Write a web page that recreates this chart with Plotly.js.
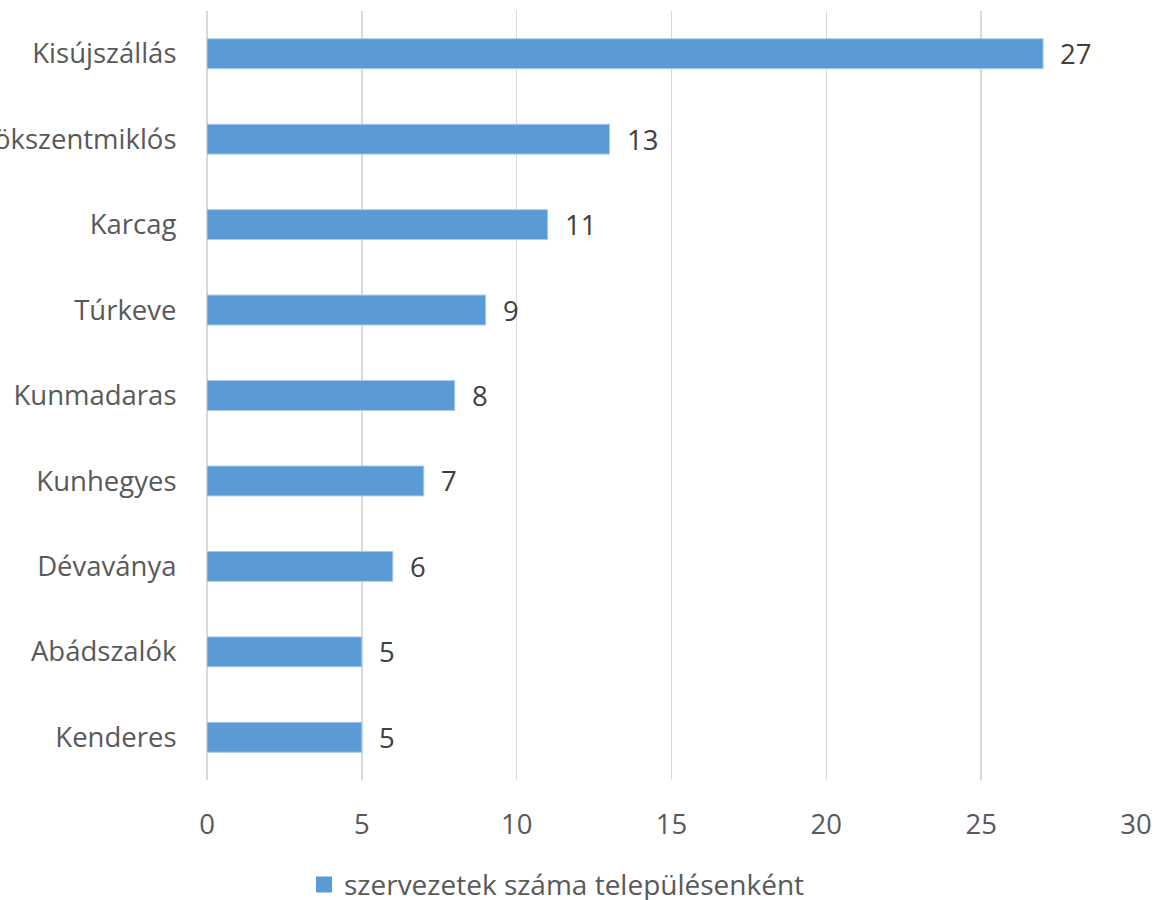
<!DOCTYPE html>
<html>
<head>
<meta charset="utf-8">
<script src="https://cdn.plot.ly/plotly-3.0.1.min.js"></script>
<style>html,body{margin:0;padding:0;background:#fff;overflow:hidden}</style>
</head>
<body>
<div id="chart" style="width:1158px;height:900px"></div>
<script>
const categories = ["Kisújszállás", "Törökszentmiklós", "Karcag", "Túrkeve", "Kunmadaras", "Kunhegyes", "Dévaványa", "Abádszalók", "Kenderes"];
const values = [27, 13, 11, 9, 8, 7, 6, 5, 5];
const seriesName = "szervezetek száma településenként";
const xTicks = [0, 5, 10, 15, 20, 25, 30];

const FONT = "Open Sans, Segoe UI, sans-serif";
const barColor = "#5B9BD5";

const traces = [
  {
    type: "bar",
    orientation: "h",
    x: values,
    y: categories,
    width: 0.35,
    marker: { color: barColor, line: { color: "#A9CBEA", width: 1 } },
    showlegend: false,
    hoverinfo: "x+y"
  },
  {
    type: "scatter",
    mode: "markers",
    x: [null],
    y: [null],
    name: seriesName,
    marker: { color: barColor, symbol: "square", size: 18 },
    showlegend: true
  }
];

const annotations = values.map((v, i) => ({
  x: v, y: categories[i], xref: "x", yref: "y",
  text: String(v), showarrow: false,
  xanchor: "left", yanchor: "middle", xshift: 15,
  font: { family: FONT, size: 27.5, color: "#404040" }
}));

const layout = {
  width: 1158, height: 900,
  margin: { l: 207, r: 22, t: 11, b: 120, pad: 0 },
  paper_bgcolor: "#ffffff", plot_bgcolor: "#ffffff",
  font: { family: FONT, size: 27.5, color: "#595959" },
  bargap: 0.65,
  xaxis: {
    range: [0, 30], tickvals: xTicks, ticktext: xTicks.map(String),
    showgrid: true, gridcolor: "#D9D9D9", gridwidth: 1.5,
    zeroline: true, zerolinecolor: "#D9D9D9", zerolinewidth: 1.5,
    showline: false, ticks: "outside", ticklen: 20, tickcolor: "rgba(0,0,0,0)",
    tickfont: { family: FONT, size: 27.5, color: "#595959" },
    automargin: false, fixedrange: true
  },
  yaxis: {
    type: "category", categoryorder: "array", categoryarray: categories,
    autorange: "reversed",
    showgrid: false, zeroline: false, showline: false,
    ticks: "outside", ticklen: 24, tickcolor: "rgba(0,0,0,0)",
    tickfont: { family: FONT, size: 27.5, color: "#595959" },
    automargin: false, fixedrange: true
  },
  showlegend: true,
  legend: {
    orientation: "h", xref: "container", yref: "container",
    x: 0.481, xanchor: "center", y: 0.017, yanchor: "middle",
    font: { family: FONT, size: 28, color: "#595959" },
    itemwidth: 30, bgcolor: "rgba(0,0,0,0)"
  },
  annotations: annotations
};

Plotly.newPlot("chart", traces, layout, { displayModeBar: false, staticPlot: true });
</script>
</body>
</html>
